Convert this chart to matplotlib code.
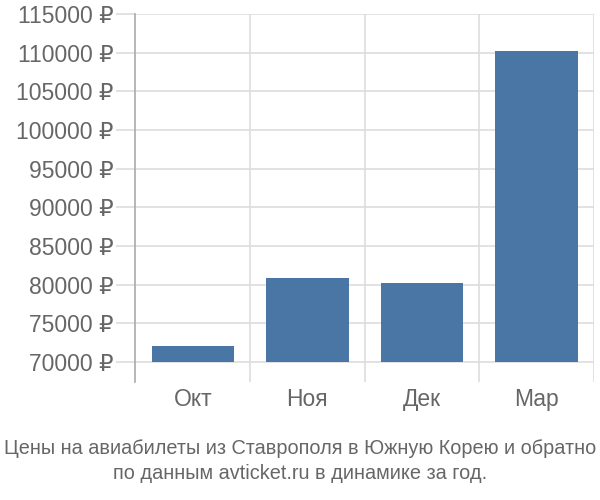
import matplotlib.pyplot as plt
from matplotlib.ticker import FixedLocator, FuncFormatter

plt.rcParams['font.family'] = ['Liberation Sans', 'DejaVu Sans']

months = ['Окт', 'Ноя', 'Дек', 'Мар']
prices = [72100, 80850, 80150, 110250]
y_ticks = list(range(70000, 115001, 5000))
base = 70000

fig = plt.figure(figsize=(6, 5), dpi=100)
ax = fig.add_axes([0.2258, 0.236, 0.7642, 0.736])

x = list(range(len(months)))
ax.bar(x, [p - base for p in prices], bottom=base, width=0.72, color='#4a76a6', zorder=3)

ax.set_xlim(-0.5, 3.5)
ax.set_ylim(67400, 115000)

# сетка
ax.set_yticks(y_ticks)
ax.yaxis.set_major_formatter(FuncFormatter(lambda v, p: f'{int(v)} ₽'))
ax.set_xticks(x)
ax.set_xticklabels(months)
ax.xaxis.set_minor_locator(FixedLocator([0.5, 1.5, 2.5, 3.5]))
ax.grid(axis='y', which='major', color='#dddddd', linewidth=1.2, zorder=0)
ax.grid(axis='x', which='minor', color='#dddddd', linewidth=1.2, zorder=0)

for s in ['top', 'right', 'bottom']:
    ax.spines[s].set_visible(False)
ax.spines['left'].set_color('#aaaaaa')
ax.spines['left'].set_linewidth(1.2)

ax.tick_params(axis='y', length=14, color='#dddddd', width=1.2, pad=2,
               labelsize=16.5, labelcolor='#666666')
ax.tick_params(axis='x', which='major', length=0, pad=4,
               labelsize=16.5, labelcolor='#666666')
ax.tick_params(axis='x', which='minor', length=0)

fig.text(0.5, 0.078, 'Цены на авиабилеты из Ставрополя в Южную Корею и обратно\n'
         'по данным avticket.ru в динамике за год.',
         ha='center', va='center', fontsize=14.3, color='#666666', linespacing=1.45)

plt.savefig('out.png', dpi=100)
